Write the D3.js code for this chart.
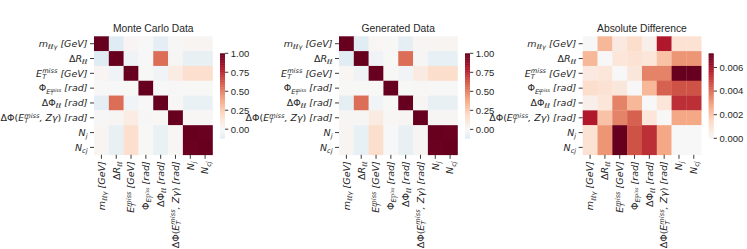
<!DOCTYPE html>
<html><head><meta charset="utf-8">
<script src="https://cdn.jsdelivr.net/npm/d3@7"></script>
<style>body{margin:0;background:#fff}svg{display:block}</style>
</head><body>
<svg id="chart" width="747" height="249"></svg>
<script>
// ---------- DATA ----------
const variables = ["mllg","dRll","ETmiss","PhiET","dPhill","dPhiEZ","Nj","Ncj"];
const titles = ["Monte Carlo Data","Generated Data","Absolute Difference"];
const mcCorr = [
  [ 1.000,-0.120, 0.018, 0.002,-0.100, 0.006, 0.020, 0.020],
  [-0.120, 1.000,-0.040, 0.001, 0.560, 0.012,-0.080,-0.080],
  [ 0.018,-0.040, 1.000, 0.003,-0.030, 0.085, 0.170, 0.170],
  [ 0.002, 0.001, 0.003, 1.000, 0.001, 0.004, 0.003, 0.003],
  [-0.100, 0.560,-0.030, 0.001, 1.000, 0.010,-0.070,-0.070],
  [ 0.006, 0.012, 0.085, 0.004, 0.010, 1.000, 0.008, 0.008],
  [ 0.020,-0.080, 0.170, 0.003,-0.070, 0.008, 1.000, 0.990],
  [ 0.020,-0.080, 0.170, 0.003,-0.070, 0.008, 0.990, 1.000]
];
const genCorr = [
  [ 1.0000,-0.1176, 0.0173, 0.0033,-0.1004, 0.0118, 0.0211, 0.0211],
  [-0.1176, 1.0000,-0.0409, 0.0021, 0.5591, 0.0141,-0.0832,-0.0832],
  [ 0.0173,-0.0409, 1.0000, 0.0022,-0.0336, 0.0886, 0.1772, 0.1772],
  [ 0.0033, 0.0021, 0.0022, 1.0000, 0.0034, 0.0083,-0.0016,-0.0016],
  [-0.1004, 0.5591,-0.0336, 0.0034, 1.0000, 0.0109,-0.0753,-0.0753],
  [ 0.0118, 0.0141, 0.0886, 0.0083, 0.0109, 1.0000, 0.0108, 0.0108],
  [ 0.0211,-0.0832, 0.1772,-0.0016,-0.0753, 0.0108, 1.0000, 0.9900],
  [ 0.0211,-0.0832, 0.1772,-0.0016,-0.0753, 0.0108, 0.9900, 1.0000]
];
const absDiff = [
  [0.0000,0.0024,0.0007,0.0013,0.0004,0.0058,0.0011,0.0011],
  [0.0024,0.0000,0.0009,0.0011,0.0009,0.0021,0.0032,0.0032],
  [0.0007,0.0009,0.0000,0.0008,0.0036,0.0036,0.0072,0.0072],
  [0.0013,0.0011,0.0008,0.0000,0.0024,0.0043,0.0046,0.0046],
  [0.0004,0.0009,0.0036,0.0024,0.0000,0.0009,0.0053,0.0053],
  [0.0058,0.0021,0.0036,0.0043,0.0009,0.0000,0.0028,0.0028],
  [0.0011,0.0032,0.0072,0.0046,0.0053,0.0028,0.0000,0.0000],
  [0.0011,0.0032,0.0072,0.0046,0.0053,0.0028,0.0000,0.0000]
];
const corrTicks = [0, 0.25, 0.5, 0.75, 1.0];
const corrTickLabels = ["0.00","0.25","0.50","0.75","1.00"];
const diffTicks = [0, 0.002, 0.004, 0.006];
const diffTickLabels = ["0.000","0.002","0.004","0.006"];
// label pieces: l = level (0 base, 1 sub, 2 sup stacked on sub, 3 sub-of-sub, 4 sup stacked on sub-of-sub), u = upright
const labelParts = [
  [{t:"m"},{t:"ℓℓγ",l:1},{t:" [GeV]"}],
  [{t:"Δ",u:1},{t:"R"},{t:"ℓℓ",l:1}],
  [{t:"E"},{t:"T",l:1},{t:"miss",l:2},{t:" [GeV]"}],
  [{t:"Φ",u:1},{t:"E",l:1},{t:"T",l:3},{t:"miss",l:4},{t:" [rad]"}],
  [{t:"ΔΦ",u:1},{t:"ℓℓ",l:1},{t:" [rad]"}],
  [{t:"ΔΦ",u:1},{t:"(",u:1},{t:"E"},{t:"T",l:1},{t:"miss",l:2},{t:", Zγ"},{t:")",u:1},{t:" [rad]"}],
  [{t:"N"},{t:"j",l:1}],
  [{t:"N"},{t:"cj",l:1}]
];

// ---------- COLORS (matplotlib RdBu_r, linear segments) ----------
const rdbuR = ["#053061","#2166ac","#4393c3","#92c5de","#d1e5f0","#f7f7f7","#fddbc7","#f4a582","#d6604d","#b2182b","#67001f"];
function divergingScale(halfRange){
  return d3.scaleLinear()
    .domain(d3.range(11).map(i => -halfRange + i*halfRange/5))
    .range(rdbuR).interpolate(d3.interpolateRgb).clamp(true);
}

// ---------- LAYOUT ----------
const svg = d3.select("#chart");
const TXT = "#262626";
const panelX = [94, 339, 582.7];
const top0 = 36.3, size = 118.5;
const cbOffset = 126, cbW = 5, cbTop = 53.3, cbBot = 138.3;
const tickFs = 9.5, titleFs = 10.3;
const mathFont = "'DejaVu Sans', sans-serif";
const textFont = "'Liberation Sans', Arial, sans-serif";

function mathLabel(textSel, parts, fs){
  const off = {0:0, 1:0.22*fs, 2:-0.36*fs, 3:0.22*fs+0.16*fs, 4:0.22*fs-0.2*fs};
  const sz = {0:fs, 1:0.7*fs, 2:0.7*fs, 3:0.5*fs, 4:0.5*fs};
  let cur = 0, prev = null;
  parts.forEach(p => {
    const l = p.l || 0;
    const ts = textSel.append("tspan").text(p.t)
      .attr("font-size", sz[l])
      .attr("font-style", p.u ? "normal" : "italic")
      .attr("dy", off[l] - cur);
    if ((l === 2 || l === 4) && prev) {
      ts.attr("dx", -prev.node().getComputedTextLength());
    }
    cur = off[l];
    prev = ts;
  });
}

const datasets = [
  {data: mcCorr, kind: "corr"},
  {data: genCorr, kind: "corr"},
  {data: absDiff, kind: "diff"}
];

datasets.forEach((ds, k) => {
  const x0 = panelX[k];
  const g = svg.append("g");
  const flat = ds.data.flat();
  let vmin, vmax, color, ticks, tickLabels;
  if (ds.kind === "corr") {
    vmin = d3.min(flat); vmax = d3.max(flat);
    color = divergingScale(Math.max(vmax, -vmin));
    ticks = corrTicks; tickLabels = corrTickLabels;
  } else {
    vmin = 0; vmax = d3.max(flat);
    color = divergingScale(vmax);
    ticks = diffTicks; tickLabels = diffTickLabels;
  }
  const xb = d3.scaleBand().domain(d3.range(variables.length)).range([x0, x0+size]);
  const yb = d3.scaleBand().domain(d3.range(variables.length)).range([top0, top0+size]);

  // cells
  ds.data.forEach((row, i) => {
    g.selectAll(null).data(row).enter().append("rect")
      .attr("x", (d,j) => xb(j)).attr("y", yb(i))
      .attr("width", xb.bandwidth()+0.3).attr("height", yb.bandwidth()+0.3)
      .attr("fill", d => color(d));
  });

  // title
  g.append("text").attr("x", x0 + size/2).attr("y", 31.7)
    .attr("text-anchor","middle").attr("font-family", textFont)
    .attr("font-size", titleFs).attr("fill", TXT).text(titles[k]);

  // y ticks + labels
  variables.forEach((v, i) => {
    const cy = yb(i) + yb.bandwidth()/2;
    g.append("line").attr("x1", x0-4).attr("x2", x0).attr("y1", cy).attr("y2", cy)
      .attr("stroke", TXT).attr("stroke-width", 0.9);
    const t = g.append("text").attr("x", x0-6.5).attr("y", cy + 0.35*tickFs)
      .attr("text-anchor","end").attr("font-family", mathFont)
      .attr("font-size", tickFs).attr("fill", TXT);
    mathLabel(t, labelParts[i], tickFs);
  });
  // x ticks + labels
  const yB = top0 + size;
  variables.forEach((v, j) => {
    const cx = xb(j) + xb.bandwidth()/2;
    g.append("line").attr("x1", cx).attr("x2", cx).attr("y1", yB).attr("y2", yB+4)
      .attr("stroke", TXT).attr("stroke-width", 0.9);
    const t = g.append("text")
      .attr("transform", `translate(${cx + 0.35*tickFs},${yB+6.5}) rotate(-90)`)
      .attr("text-anchor","end").attr("font-family", mathFont)
      .attr("font-size", tickFs).attr("fill", TXT);
    mathLabel(t, labelParts[j], tickFs);
  });

  // colorbar
  const cbx = x0 + cbOffset;
  const cy = d3.scaleLinear().domain([vmin, vmax]).range([cbBot, cbTop]);
  const n = 120;
  const step = (vmax - vmin)/n;
  g.selectAll(null).data(d3.range(n)).enter().append("rect")
    .attr("x", cbx).attr("width", cbW)
    .attr("y", i => cy(vmin + (i+1)*step))
    .attr("height", i => cy(vmin + i*step) - cy(vmin + (i+1)*step) + 0.4)
    .attr("fill", i => color(vmin + (i+0.5)*step));
  ticks.forEach((tv, i) => {
    const ty = cy(tv);
    g.append("line").attr("x1", cbx+cbW).attr("x2", cbx+cbW+3.3).attr("y1", ty).attr("y2", ty)
      .attr("stroke", TXT).attr("stroke-width", 0.9);
    g.append("text").attr("x", cbx+cbW+5.8).attr("y", ty + 0.35*tickFs)
      .attr("font-family", textFont).attr("font-size", tickFs).attr("fill", TXT)
      .text(tickLabels[i]);
  });
});
</script>
</body></html>
